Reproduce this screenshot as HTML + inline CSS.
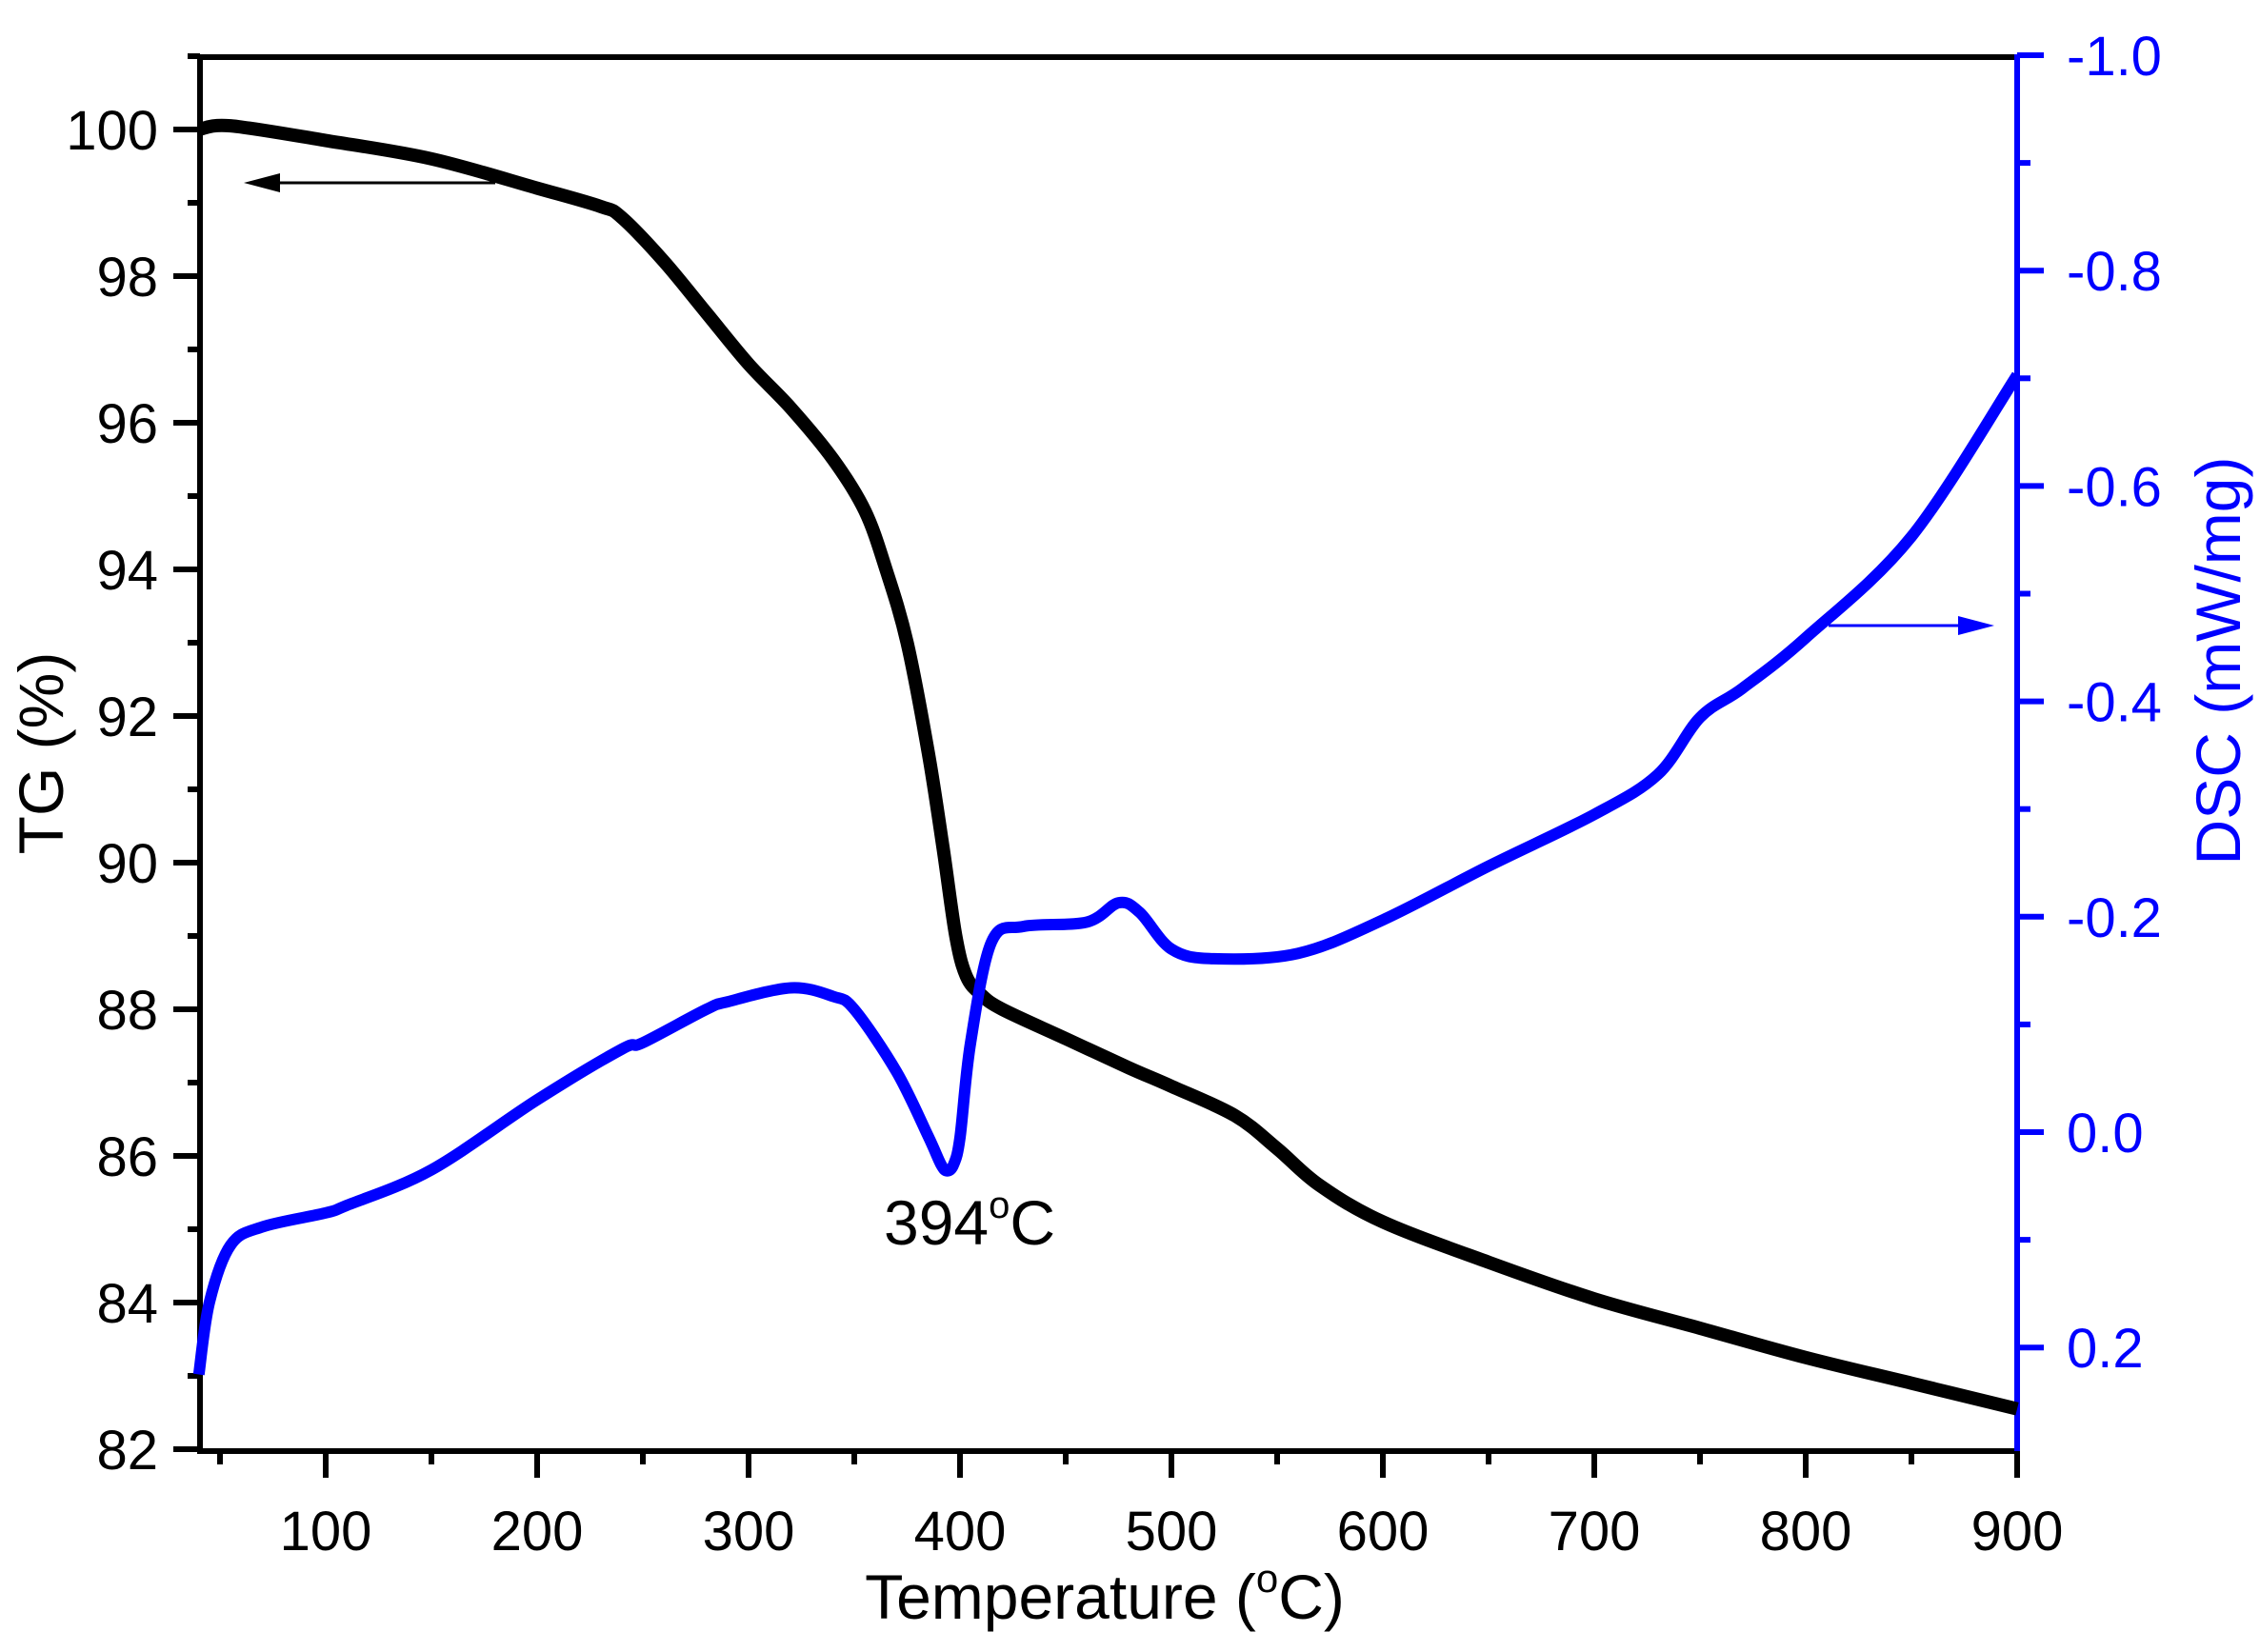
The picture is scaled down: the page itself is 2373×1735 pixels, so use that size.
<!DOCTYPE html>
<html><head><meta charset="utf-8"><style>
html,body{margin:0;padding:0;background:#fff;}
svg{display:block;font-family:"Liberation Sans",Arial,sans-serif;}
</style></head><body>
<svg id="chart" width="2373" height="1735" viewBox="0 0 2373 1735" xmlns="http://www.w3.org/2000/svg">
<g id="axes"></g>
<g id="series"></g>
<text x="1160" y="1700" font-size="66" text-anchor="middle">Temperature (<tspan font-size="42" dy="-28">o</tspan><tspan dy="28">C)</tspan></text>
<text transform="translate(66,791) rotate(-90)" font-size="66" text-anchor="middle">TG (%)</text>
<text transform="translate(2352,694) rotate(-90)" font-size="66" text-anchor="middle" fill="#0000ff">DSC (mW/mg)</text>
<text x="928" y="1307" font-size="66">394<tspan font-size="40" dy="-28">o</tspan><tspan dy="28">C</tspan></text>
<g>
<line x1="520" y1="192" x2="290" y2="192" stroke="#000" stroke-width="3"/>
<polygon points="256,192 294,182 294,202" fill="#000"/>
</g>
<g>
<line x1="1920" y1="657" x2="2060" y2="657" stroke="#0000ff" stroke-width="3"/>
<polygon points="2094,657 2056,647 2056,667" fill="#0000ff"/>
</g>
</svg>
<script>
const tgTemps=[40,55,100,150,200,230,240,260,280,300,320,340,355,365,375,385,392,398,403,410,420,450,480,500,530,550,570,600,650,700,750,800,850,900];
const tgValues=[100.0,100.05,99.85,99.6,99.2,98.95,98.8,98.2,97.5,96.8,96.2,95.5,94.8,94.0,93.0,91.5,90.2,89.0,88.45,88.2,88.0,87.6,87.2,86.95,86.55,86.1,85.6,85.1,84.55,84.05,83.65,83.25,82.9,82.55];
const dscTemps=[40,45,55,70,100,110,150,200,240,250,280,290,320,340,350,370,385,391,394,397,400,405,415,430,460,475,485,500,520,560,600,650,700,730,750,770,800,850,900];
const dscValues=[0.225,0.158,0.105,0.088,0.075,0.068,0.035,-0.030,-0.077,-0.083,-0.114,-0.121,-0.134,-0.126,-0.114,-0.056,0.004,0.030,0.036,0.030,0.005,-0.083,-0.177,-0.191,-0.195,-0.213,-0.204,-0.170,-0.161,-0.166,-0.197,-0.247,-0.295,-0.332,-0.385,-0.412,-0.459,-0.553,-0.703];
const xTicks=[100,200,300,400,500,600,700,800,900];
const tgTicks=[82,84,86,88,90,92,94,96,98,100];
const dscTicks=[-1.0,-0.8,-0.6,-0.4,-0.2,0.0,0.2];
const dscTickLabels=["-1.0","-0.8","-0.6","-0.4","-0.2","0.0","0.2"];

const L=210,R=2118,T=60,B=1524;
const X=t=>342+(t-100)*(2118-342)/800;
const Y1=v=>136+(100-v)*77;
const Y2=v=>1189+v*1131;
const NS='http://www.w3.org/2000/svg';
const axes=document.getElementById('axes'),series=document.getElementById('series');
function mk(tag,attrs,parent){const e=document.createElementNS(NS,tag);for(const k in attrs)e.setAttribute(k,attrs[k]);parent.appendChild(e);return e;}

let e;
e=mk('line',{x1:L,y1:T,x2:R,y2:T,stroke:'#000','stroke-width':6},axes);


e=mk('line',{x1:L,y1:T-3,x2:L,y2:B+3,stroke:'#000','stroke-width':6},axes);


e=mk('line',{x1:L,y1:B,x2:R,y2:B,stroke:'#000','stroke-width':6},axes);


e=mk('line',{x1:R,y1:T-3,x2:R,y2:B+3,stroke:'#0000ff','stroke-width':6},axes);



for(let t=50;t<=900;t+=50){const major=t%100===0;
 e=mk('line',{x1:X(t),y1:B,x2:X(t),y2:B+(major?28:14),stroke:'#000','stroke-width':6},axes);
 
 }
xTicks.forEach(t=>{e=mk('text',{x:X(t),y:1628,'font-size':58,'text-anchor':'middle'},axes);e.textContent=t;
 
 });
for(let v=82;v<=101;v+=1){const major=v%2===0;
 e=mk('line',{x1:L,y1:Y1(v),x2:L-(major?28:13),y2:Y1(v),stroke:'#000','stroke-width':6},axes);
 
 }
tgTicks.forEach(v=>{e=mk('text',{x:166,y:Y1(v)+21,'font-size':58,'text-anchor':'end'},axes);e.textContent=v;
 
 });
for(let i=-10;i<=2;i++){const v=i/10;const major=i%2===0;
 e=mk('line',{x1:R,y1:Y2(v),x2:R+(major?28:14),y2:Y2(v),stroke:'#0000ff','stroke-width':6},axes);
 
 }
dscTicks.forEach((v,i)=>{e=mk('text',{x:2170,y:Y2(v)+21,'font-size':58,fill:'#0000ff'},axes);e.textContent=dscTickLabels[i];
 
 });

function smooth(pts){let d='M'+pts[0][0]+','+pts[0][1];
 for(let i=0;i<pts.length-1;i++){const p0=pts[Math.max(i-1,0)],p1=pts[i],p2=pts[i+1],p3=pts[Math.min(i+2,pts.length-1)];
  const c1=[p1[0]+(p2[0]-p0[0])/6,p1[1]+(p2[1]-p0[1])/6],c2=[p2[0]-(p3[0]-p1[0])/6,p2[1]-(p3[1]-p1[1])/6];
  d+=' C'+c1+' '+c2+' '+p2;}return d;}
e=mk('path',{d:smooth(tgTemps.map((t,i)=>[X(t),Y1(tgValues[i])])),fill:'none',stroke:'#000','stroke-width':14,'stroke-linejoin':'round'},series);


e=mk('path',{d:smooth(dscTemps.map((t,i)=>[X(t),Y2(dscValues[i])])),fill:'none',stroke:'#0000ff','stroke-width':12,'stroke-linejoin':'round'},series);


</script>
</body></html>
